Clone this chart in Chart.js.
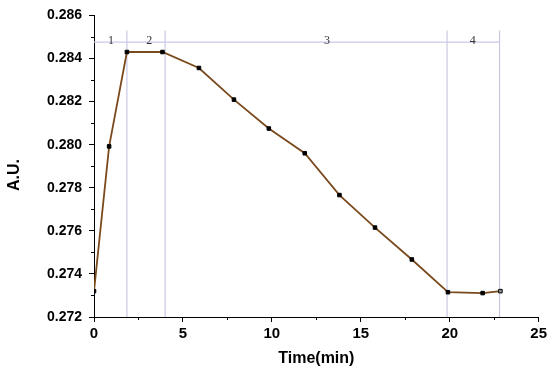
<!DOCTYPE html>
<html>
<head>
<meta charset="utf-8">
<script src="https://cdn.jsdelivr.net/npm/chart.js@4.4.1/dist/chart.umd.min.js"></script>
<style>
  body { margin: 0; background: #fff; }
  #wrap { width: 550px; height: 374px; }
</style>
</head>
<body>
<div id="wrap"><canvas id="myChart" width="550" height="374"></canvas></div>
<script>
let timeMin = [0, 0.85, 1.85, 3.85, 5.9, 7.87, 9.83, 11.85, 13.8, 15.8, 17.87, 19.9, 21.85, 22.85];
let auValues = [0.2732, 0.27992, 0.28430, 0.28430, 0.28356, 0.28209, 0.28075, 0.2796, 0.27766, 0.27615, 0.27467, 0.27315, 0.27311, 0.2732];

// phase boundaries and labels
let phaseBounds = [1.85, 4.0, 19.85, 22.8];
let phaseTop = 0.2853;
let phaseLineY = 0.28476;
let phaseLabels = ['1', '2', '3', '4'];
let phaseLabelX = [0.95, 3.1, 13.1, 21.3];

let yTicks = [0.272, 0.274, 0.276, 0.278, 0.280, 0.282, 0.284, 0.286];
let xTicks = [0, 5, 10, 15, 20, 25];

let lineColor = '#c9c9e6';
let brown = '#7a4a1c';

let datasets = [{
  data: timeMin.map((t, i) => ({x: t, y: auValues[i]})),
  showLine: true,
  borderColor: brown,
  borderWidth: 1.8,
  pointStyle: 'rect',
  pointRadius: 2.5,
  pointBackgroundColor: (c) => c.dataIndex === timeMin.length - 1 ? '#999' : '#000',
  pointBorderColor: '#000',
  pointBorderWidth: 1
}];

phaseBounds.forEach(b => {
  datasets.push({
    data: [{x: b, y: yTicks[0]}, {x: b, y: phaseTop}],
    showLine: true, borderColor: lineColor, borderWidth: 1.2, pointRadius: 0
  });
});
datasets.push({
  data: [{x: 0, y: phaseLineY}, {x: phaseBounds[phaseBounds.length - 1], y: phaseLineY}],
  showLine: true, borderColor: lineColor, borderWidth: 1.2, pointRadius: 0
});

let extras = {
  id: 'extras',
  afterDraw(chart) {
    let c = chart.ctx;
    let xs = chart.scales.x, ys = chart.scales.y;
    c.save();
    // minor ticks
    c.strokeStyle = '#000';
    c.lineWidth = 1;
    c.beginPath();
    for (let v = 0.273; v < 0.286; v += 0.002) {
      let py = Math.round(ys.getPixelForValue(v)) + 0.5;
      c.moveTo(xs.left - 3, py); c.lineTo(xs.left, py);
    }
    for (let v = 2.5; v < 25; v += 5) {
      let px = Math.round(xs.getPixelForValue(v)) + 0.5;
      c.moveTo(px, ys.bottom); c.lineTo(px, ys.bottom + 3);
    }
    c.stroke();
    // phase labels
    c.fillStyle = '#333';
    c.font = '12px "Liberation Serif", serif';
    c.textAlign = 'center';
    c.textBaseline = 'middle';
    phaseLabels.forEach((l, i) => {
      c.fillText(l, xs.getPixelForValue(phaseLabelX[i]), ys.getPixelForValue(phaseLineY) - 1);
    });
    c.restore();
  }
};

let myChart = new Chart(document.getElementById('myChart').getContext('2d'), {
  type: 'scatter',
  data: { datasets: datasets },
  options: {
    responsive: false,
    animation: false,
    layout: { padding: { top: 13, right: 11, bottom: 0, left: 0 } },
    plugins: { legend: { display: false }, tooltip: { enabled: false } },
    scales: {
      x: {
        type: 'linear',
        min: 0, max: 25,
        afterFit: (s) => { s.height = 57; },
        afterBuildTicks: (s) => { s.ticks = xTicks.map(v => ({value: v})); },
        grid: { drawOnChartArea: false, drawTicks: true, tickLength: 5, color: '#000' },
        border: { display: true, color: '#000', width: 1 },
        ticks: { color: '#000', padding: 3, font: { family: 'Liberation Sans, Arial', size: 15, weight: 'bold' } },
        title: { display: true, text: 'Time(min)', color: '#000', padding: { top: 0, bottom: 6 },
          font: { family: 'Liberation Sans, Arial', size: 16, weight: 'bold' } }
      },
      y: {
        min: 0.272, max: 0.286,
        afterFit: (s) => { s.width = 94; },
        afterBuildTicks: (s) => { s.ticks = yTicks.map(v => ({value: v})); },
        grid: { drawOnChartArea: false, drawTicks: true, tickLength: 5, color: '#000' },
        border: { display: true, color: '#000', width: 1 },
        ticks: { color: '#000', padding: 7, callback: (v) => v.toFixed(3),
          font: { family: 'Liberation Sans, Arial', size: 14, weight: 'bold' } },
        title: { display: true, text: 'A.U.    ', color: '#000', padding: { top: 5, bottom: 0 },
          font: { family: 'Liberation Sans, Arial', size: 16, weight: 'bold' } }
      }
    }
  },
  plugins: [extras]
});
</script>
</body>
</html>
